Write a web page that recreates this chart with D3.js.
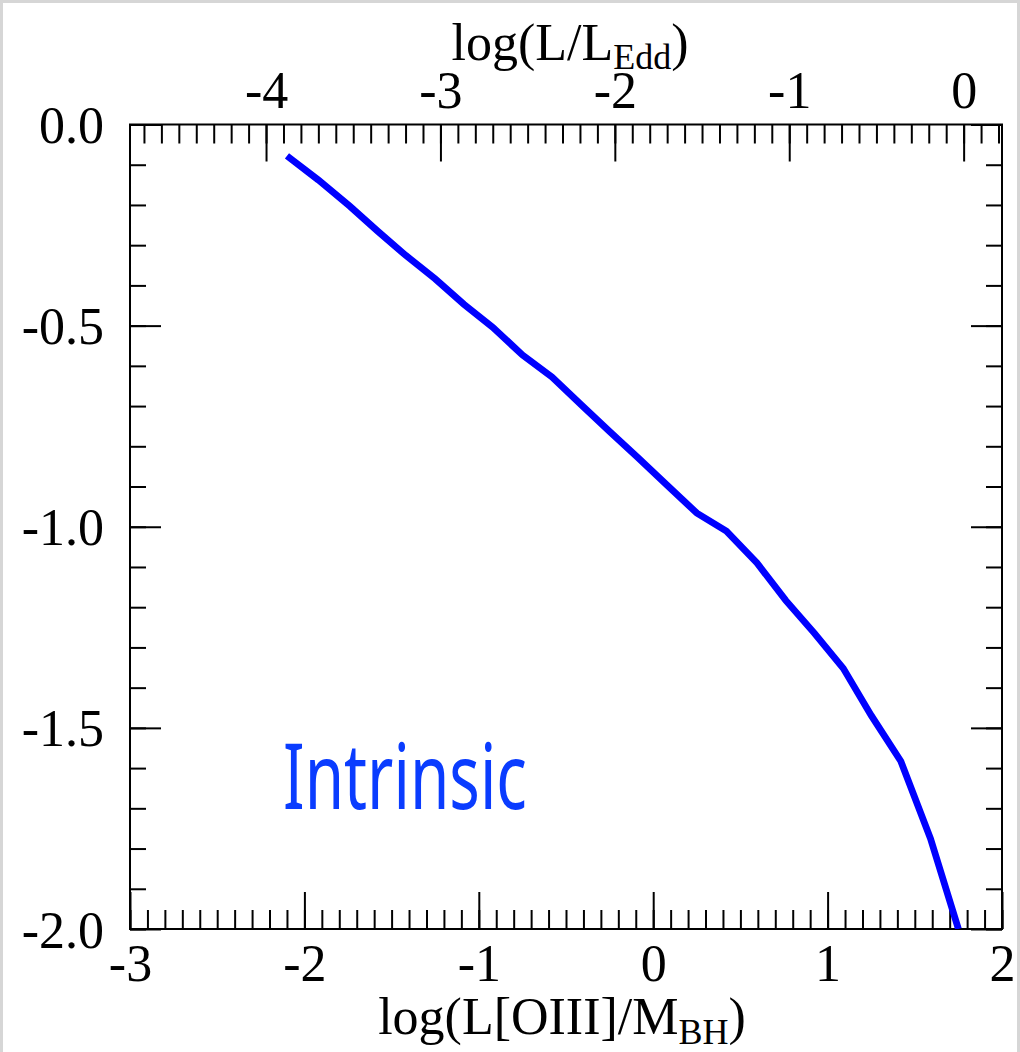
<!DOCTYPE html>
<html>
<head>
<meta charset="utf-8">
<script src="https://cdn.jsdelivr.net/npm/d3@7"></script>
<style>
  html, body { margin: 0; padding: 0; background: #fff; }
  svg { display: block; }
  .tick text { font-family: "Liberation Serif", "Times New Roman", serif; font-size: 52px; fill: #000; }
  .tick line { stroke: #000; stroke-width: 2px; }
</style>
</head>
<body>
<script>
// Intrinsic relation: log(L[OIII]/M_BH) vs. offset, with log(L/L_Edd) on the top axis
const xValues = [-2.10, -1.92, -1.74, -1.58, -1.42, -1.25, -1.085, -0.92, -0.75, -0.58, -0.41, -0.25,
                 -0.09, 0.08, 0.25, 0.42, 0.595, 0.76, 0.925, 1.09, 1.25, 1.42, 1.59, 1.75];
const yValues = [-0.078, -0.138, -0.203, -0.265, -0.325, -0.384, -0.447, -0.504, -0.573, -0.628, -0.698, -0.763,
                 -0.827, -0.897, -0.966, -1.011, -1.090, -1.183, -1.265, -1.352, -1.469, -1.583, -1.775, -2.0];
const seriesLabel = "Intrinsic";

const bottomMajor = [-3, -2, -1, 0, 1, 2];
const topMajor = [-4, -3, -2, -1, 0];
const leftMajor = [0.0, -0.5, -1.0, -1.5, -2.0];

const W = 1020, H = 1052;
const L = 130, R = 1002, T = 124.5, B = 929;

const svg = d3.select("body").append("svg").attr("width", W).attr("height", H);

// page frame
svg.append("rect").attr("x", 0).attr("y", 0).attr("width", W).attr("height", 3).attr("fill", "#d6d6d6");
svg.append("rect").attr("x", 0).attr("y", 0).attr("width", 3).attr("height", H).attr("fill", "#d6d6d6");
svg.append("rect").attr("x", W - 3).attr("y", 0).attr("width", 3).attr("height", H).attr("fill", "#d6d6d6");

const x = d3.scaleLinear().domain([-3, 2]).range([L, R]);
const xTop = d3.scaleLinear().domain([-4.78, 0.22]).range([L, R]);
const y = d3.scaleLinear().domain([-2, 0]).range([B, T]);

const range = (a, b, s) => { const out = []; for (let v = a; v <= b + 1e-9; v += s) out.push(+v.toFixed(3)); return out; };
const bottomMinor = range(-3, 2, 0.1);
const topMinor = range(-4.7, 0.2, 0.1);
const leftMinor = range(-2, 0, 0.1);

const fmtInt = d => String(d);
const fmt1 = d => d.toFixed(1);

function styleAxis(g) { g.select(".domain").remove(); }

// bottom axis
svg.append("g").attr("transform", `translate(0,${B})`)
  .call(d3.axisBottom(x).tickValues(bottomMinor).tickSize(-19).tickFormat(""))
  .call(styleAxis);
svg.append("g").attr("transform", `translate(0,${B})`)
  .call(d3.axisBottom(x).tickValues(bottomMajor).tickSize(-37).tickFormat(fmtInt))
  .call(styleAxis)
  .call(g => g.selectAll("text").attr("y", 52).attr("dy", null));

// top axis
svg.append("g").attr("transform", `translate(0,${T})`)
  .call(d3.axisTop(xTop).tickValues(topMinor).tickSize(-19).tickFormat(""))
  .call(styleAxis);
svg.append("g").attr("transform", `translate(0,${T})`)
  .call(d3.axisTop(xTop).tickValues(topMajor).tickSize(-37).tickFormat(fmtInt))
  .call(styleAxis)
  .call(g => g.selectAll("text").attr("y", -16.5).attr("dy", null));

// left axis
svg.append("g").attr("transform", `translate(${L},0)`)
  .call(d3.axisLeft(y).tickValues(leftMinor).tickSize(-16).tickFormat(""))
  .call(styleAxis);
svg.append("g").attr("transform", `translate(${L},0)`)
  .call(d3.axisLeft(y).tickValues(leftMajor).tickSize(-31).tickFormat(fmt1))
  .call(styleAxis)
  .call(g => g.selectAll("text").attr("x", -26).attr("y", 18).attr("dy", null));

// right axis
svg.append("g").attr("transform", `translate(${R},0)`)
  .call(d3.axisRight(y).tickValues(leftMinor).tickSize(-16).tickFormat(""))
  .call(styleAxis);
svg.append("g").attr("transform", `translate(${R},0)`)
  .call(d3.axisRight(y).tickValues(leftMajor).tickSize(-31).tickFormat(""))
  .call(styleAxis);

// plot frame
svg.append("rect").attr("x", L).attr("y", T).attr("width", R - L).attr("height", B - T)
  .attr("fill", "none").attr("stroke", "#000").attr("stroke-width", 2);

// curve
svg.append("clipPath").attr("id", "plotclip")
  .append("rect").attr("x", L).attr("y", T).attr("width", R - L).attr("height", B - T);

const pts = xValues.map((v, i) => [v, yValues[i]]);
svg.append("path")
  .datum(pts)
  .attr("clip-path", "url(#plotclip)")
  .attr("fill", "none")
  .attr("stroke", "#0000ff")
  .attr("stroke-width", 6.8)
  .attr("stroke-linejoin", "miter")
  .attr("d", d3.line().x(d => x(d[0])).y(d => y(d[1])));

// series label
svg.append("text")
  .attr("x", 283).attr("y", 809)
  .attr("font-family", "'Noto Sans', 'Open Sans', sans-serif")
  .attr("font-size", 92)
  .attr("fill", "#0a3cff")
  .attr("textLength", 244).attr("lengthAdjust", "spacingAndGlyphs")
  .text(seriesLabel);

// axis titles
const serif = "'Liberation Serif', 'Times New Roman', serif";
const bt = svg.append("text")
  .attr("x", (L + R) / 2 - 4).attr("y", 1034)
  .attr("text-anchor", "middle")
  .attr("font-family", serif).attr("font-size", 52);
bt.append("tspan").text("log(L[OIII]/M");
bt.append("tspan").attr("font-size", 36).attr("dy", 10).text("BH");
bt.append("tspan").attr("dy", -10).text(")");

const tt = svg.append("text")
  .attr("x", (L + R) / 2 + 4).attr("y", 60)
  .attr("text-anchor", "middle")
  .attr("font-family", serif).attr("font-size", 52);
tt.append("tspan").text("log(L/L");
tt.append("tspan").attr("font-size", 36).attr("dy", 9).text("Edd");
tt.append("tspan").attr("dy", -9).text(")");
</script>
</body>
</html>
